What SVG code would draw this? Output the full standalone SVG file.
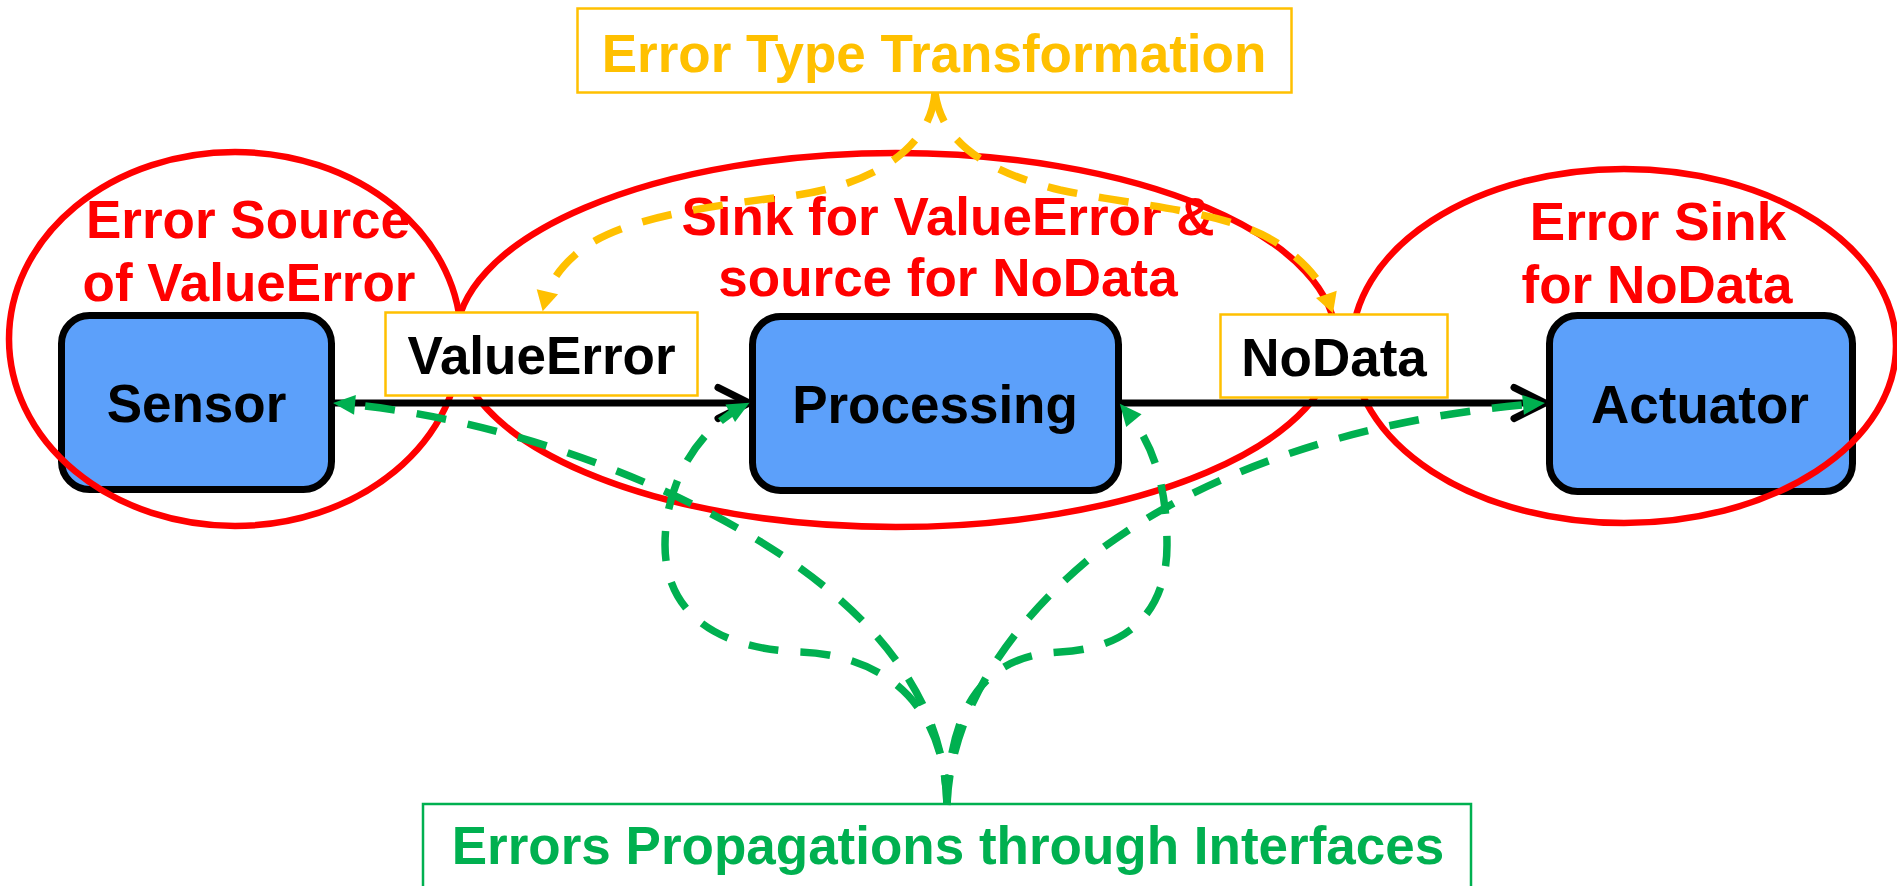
<svg xmlns="http://www.w3.org/2000/svg" width="1897" height="886" viewBox="0 0 1897 886">
  <style>
    .comp { fill: #5CA0FA; stroke: #000000; stroke-width: 7; }
    .txt { font-family: "Liberation Sans", Arial, sans-serif; font-weight: bold; font-size: 53px; }
    .black { fill: #000000; }
    .red { fill: #FF0000; }
    .yellow { fill: #FFC000; }
    .green { fill: #00B050; }
    .region { fill: none; stroke: #FF0000; stroke-width: 6.5; }
    .tag { fill: #FFFFFF; stroke: #FFC000; stroke-width: 2.5; }
    .flow { fill: none; stroke: #000000; stroke-width: 7; marker-end: url(#chevron); }
    .transform { fill: none; stroke: #FFC000; stroke-width: 7.5; stroke-dasharray: 30 22; marker-end: url(#arrowYellow); }
    .propagate { fill: none; stroke: #00B050; stroke-width: 7.5; stroke-dasharray: 30 22; marker-end: url(#arrowGreen); }
  </style>
  <defs>
    <marker id="chevron" markerUnits="userSpaceOnUse" markerWidth="40" markerHeight="40" refX="0" refY="0" orient="auto" overflow="visible">
      <path d="M-31,-15.5 L0,0 L-31,15.5" fill="none" stroke="#000000" stroke-width="7" stroke-linecap="round" stroke-linejoin="round"/>
    </marker>
    <marker id="arrowGreen" markerUnits="userSpaceOnUse" markerWidth="22" markerHeight="20" refX="10" refY="10" orient="auto" overflow="visible">
      <path d="M0,0 L22,10 L0,20 z" fill="#00B050"/>
    </marker>
    <marker id="arrowYellow" markerUnits="userSpaceOnUse" markerWidth="20" markerHeight="22" refX="8" refY="11" orient="auto" overflow="visible">
      <path d="M0,0 L20,11 L0,22 z" fill="#FFC000"/>
    </marker>
  </defs>

  <rect width="1897" height="886" fill="#FFFFFF"/>

  <!-- components -->
  <g id="sensor">
    <rect class="comp" x="61.5" y="315.5" width="270" height="174" rx="28" ry="28"/>
    <text class="txt black" x="196.5" y="422" text-anchor="middle">Sensor</text>
  </g>
  <g id="processing">
    <rect class="comp" x="752.5" y="316.5" width="366" height="174" rx="28" ry="28"/>
    <text class="txt black" x="935" y="423" text-anchor="middle">Processing</text>
  </g>
  <g id="actuator">
    <rect class="comp" x="1549.5" y="315.5" width="303" height="176" rx="28" ry="28"/>
    <text class="txt black" x="1700" y="423" text-anchor="middle">Actuator</text>
  </g>

  <!-- error regions -->
  <g id="region-source">
    <ellipse class="region" cx="235" cy="339" rx="226" ry="187"/>
    <text class="txt red" x="248" y="238" text-anchor="middle">Error Source</text>
    <text class="txt red" x="249" y="301" text-anchor="middle">of ValueError</text>
  </g>
  <g id="region-transform">
    <ellipse class="region" cx="896" cy="340" rx="440" ry="187"/>
    <text class="txt red" x="948" y="235" text-anchor="middle">Sink for ValueError &amp;</text>
    <text class="txt red" x="948" y="296" text-anchor="middle">source for NoData</text>
  </g>
  <g id="region-sink">
    <ellipse class="region" cx="1624" cy="346" rx="272" ry="177"/>
    <text class="txt red" x="1658" y="240" text-anchor="middle">Error Sink</text>
    <text class="txt red" x="1657" y="303" text-anchor="middle">for NoData</text>
  </g>

  <!-- captions -->
  <g id="caption-transformation">
    <rect x="577.5" y="8.5" width="714" height="84" fill="#FFFFFF" stroke="#FFC000" stroke-width="2.5"/>
    <text class="txt yellow" x="934" y="72" text-anchor="middle">Error Type Transformation</text>
  </g>
  <g id="caption-propagation">
    <rect x="423" y="804" width="1048" height="100" fill="#FFFFFF" stroke="#00B050" stroke-width="2.5"/>
    <text class="txt green" x="948" y="864" text-anchor="middle">Errors Propagations through Interfaces</text>
  </g>

  <!-- connectors -->
  <g id="connectors">
    <line class="flow" x1="335" y1="403" x2="749" y2="403"/>
    <line class="flow" x1="1122" y1="403" x2="1545" y2="403"/>
  </g>

  <!-- error types on the interfaces -->
  <g id="error-valueerror">
    <rect class="tag" x="385.5" y="312.5" width="312" height="83"/>
    <text class="txt black" x="541.5" y="374" text-anchor="middle">ValueError</text>
  </g>
  <g id="error-nodata">
    <rect class="tag" x="1220.5" y="314.5" width="227" height="83"/>
    <text class="txt black" x="1334" y="376" text-anchor="middle">NoData</text>
  </g>

  <!-- annotation arrows -->
  <g id="annotations">
    <path class="transform" d="M935,93 C930,150 870,186 790,196 C710,206 615,218 575,255 C558,270 549,285 545.5,299.5"/>
    <path class="transform" d="M935,93 C942,140 980,170 1060,190 C1140,207 1230,210 1280,245 C1305,262 1322,282 1329,302"/>
    <path class="propagate" d="M947,805 C945,720 900,640 800,568 C700,495 520,420 345,404"/>
    <path class="propagate" d="M947,805 C945,700 880,655 800,652 C700,648 665,600 665,545 C665,480 700,430 739,408.5"/>
    <path class="propagate" d="M947,805 C949,700 990,655 1060,652 C1140,648 1167,600 1167,545 C1167,480 1150,440 1127.5,413"/>
    <path class="propagate" d="M947,805 C950,720 1000,630 1100,550 C1200,475 1350,420 1533,404"/>
  </g>
</svg>
